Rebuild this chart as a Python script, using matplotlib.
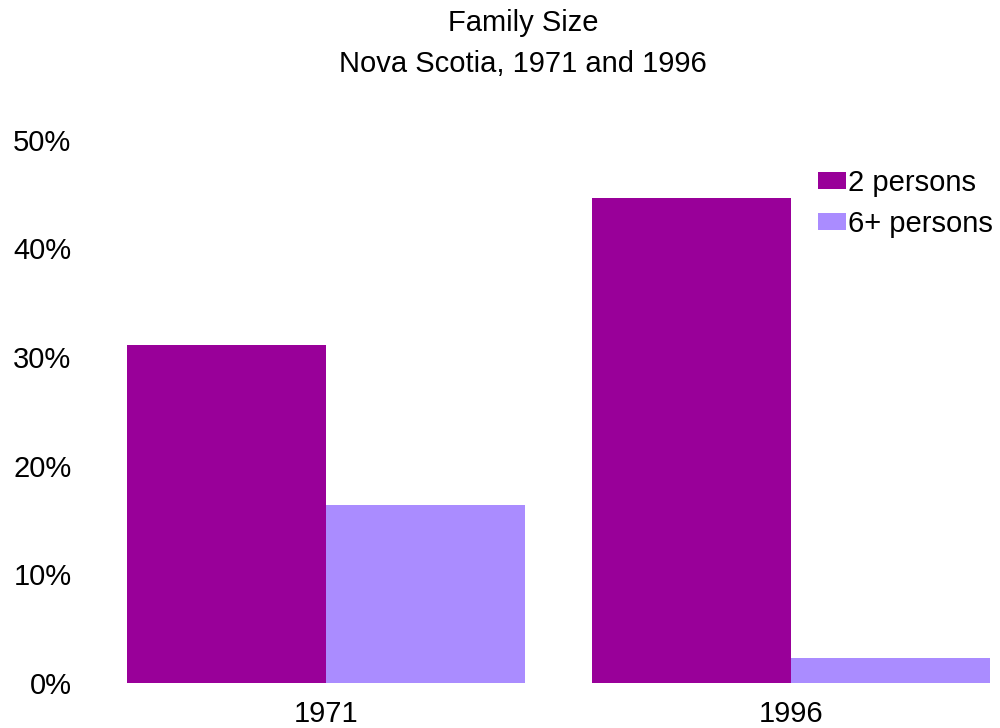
import numpy as np
import matplotlib
matplotlib.use("Agg")
import matplotlib.pyplot as plt

plt.rcParams['font.family'] = ['Liberation Sans', 'DejaVu Sans']

years = ['1971', '1996']
series_names = ['2 persons', '6+ persons']
two_persons = [31.1, 44.6]
six_plus = [16.4, 2.3]
colors = ['#990099', '#AA8CFF']

fig = plt.figure(figsize=(10, 7.28), dpi=100)
ax = fig.add_axes([0.127, 0.062, 0.863, 0.746])

x = np.arange(len(years))
w = 0.428
ax.bar(x - w / 2, two_persons, w, color=colors[0], label=series_names[0])
ax.bar(x + w / 2, six_plus, w, color=colors[1], label=series_names[1])

ax.set_xlim(-w, 1 + w)
ax.set_ylim(0, 50)
ax.set_yticks([0, 10, 20, 30, 40, 50])
ax.set_yticklabels([f'{v}%' for v in [0, 10, 20, 30, 40, 50]], fontsize=21)
ax.set_xticks(x)
ax.set_xticklabels(years, fontsize=21)
ax.tick_params(axis='y', length=0, pad=40)
ax.tick_params(axis='x', length=0, pad=12)
for s in ax.spines.values():
    s.set_visible(False)

fig.text(0.523, 0.969, 'Family Size', ha='center', va='center', fontsize=21)
fig.text(0.523, 0.912, 'Nova Scotia, 1971 and 1996', ha='center', va='center', fontsize=21)

fig.legend(loc='upper left', bbox_to_anchor=(0.818, 0.768), frameon=False, fontsize=21,
           handlelength=0.95, handleheight=0.52, handletextpad=0.07, labelspacing=0.45,
           borderpad=0, borderaxespad=0)

fig.savefig('out.png', dpi=100)
